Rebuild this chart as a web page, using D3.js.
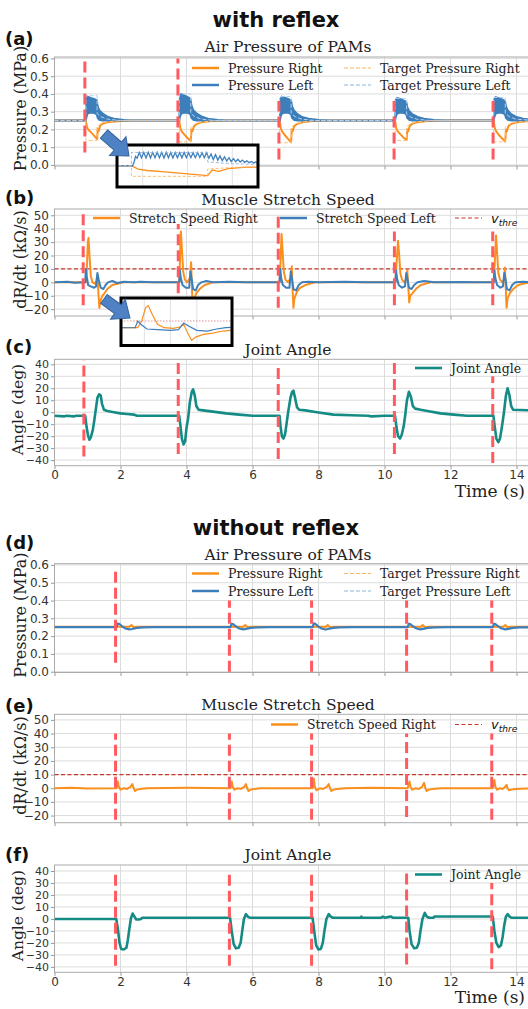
<!DOCTYPE html>
<html>
<head>
<meta charset="utf-8">
<script src="https://cdn.jsdelivr.net/npm/d3@7"></script>
<style>
  body { margin: 0; background: #fff; }
  .serif { font-family: "DejaVu Serif", serif; fill: #222; }
  .sans { font-family: "DejaVu Sans", sans-serif; fill: #111; }
</style>
</head>
<body>
<svg id="fig" width="528" height="1009"></svg>
<script>
// ---- data ----
const timeTicks = [0, 2, 4, 6, 8, 10, 12, 14];
const pressureTicks = [0, 0.1, 0.2, 0.3, 0.4, 0.5, 0.6];
const speedTicks = [-20, -10, 0, 10, 20, 30, 40, 50];
const angleTicks = [-40, -30, -20, -10, 0, 10, 20, 30, 40];
const vThre = 10;

// with reflex: stimulus times and extent of the red markers
const eventsA = [0.92, 3.74, 6.80, 10.29, 13.29];
const spansA = [[0.07, 0.6], [0.03, 0.6], [0.03, 0.36], [0.03, 0.36], [0.03, 0.36]];
const eventsB = [0.87, 3.75, 6.78, 10.30, 13.28];
const spansB = [[-17, 54], [-20, 43.5], [-19, 52], [-17, 38], [-17, 38]];
const eventsC = [0.89, 3.75, 6.78, 10.30, 13.28];
const spansC = [[-37, 43.5], [-35, 43.5], [-39, 41], [-35, 44], [-42.5, 30]];
// without reflex
const eventsD = [1.85, 5.30, 7.79, 10.67, 13.25];
const spansD = [[0.05, 0.59], [0, 0.4], [0, 0.4], [0, 0.4], [0, 0.4]];
const spansE = [[-23, 40], [-23, 40], [-23, 40], [-21, 40], [-23, 40]];
const spansF = [[-39, 39.5], [-39, 39.5], [-39, 39.5], [-38, 39.5], [-42, 30]];

// (a) pressure, with reflex  [t, MPa]
const pressRightA = [[0,0.25],[0.95,0.25],[0.98,0.215],[1.02,0.2],[1.1,0.185],[1.2,0.165],[1.29,0.145],[1.31,0.205],[1.34,0.19],[1.38,0.22],[1.45,0.232],[1.6,0.24],[1.9,0.246],[2.3,0.25],
  [3.78,0.25],[3.81,0.21],[3.85,0.19],[3.93,0.172],[4.03,0.152],[4.13,0.135],[4.15,0.2],[4.18,0.19],[4.22,0.215],[4.3,0.23],[4.45,0.24],[4.75,0.247],[5.2,0.25],
  [6.82,0.25],[6.85,0.212],[6.89,0.19],[6.97,0.17],[7.07,0.148],[7.17,0.128],[7.19,0.2],[7.22,0.19],[7.26,0.216],[7.34,0.23],[7.5,0.24],[7.8,0.247],[8.3,0.25],
  [10.32,0.25],[10.35,0.21],[10.39,0.192],[10.47,0.175],[10.57,0.155],[10.67,0.14],[10.69,0.2],[10.72,0.19],[10.76,0.217],[10.84,0.232],[11.0,0.241],[11.3,0.247],[11.8,0.25],
  [13.31,0.25],[13.34,0.21],[13.38,0.19],[13.46,0.17],[13.56,0.15],[13.66,0.132],[13.68,0.2],[13.71,0.19],[13.75,0.216],[13.83,0.23],[14.0,0.24],[14.3,0.246],[14.6,0.249]];
// left pressure oscillates fast after each stimulus: [t, low, high] envelope
const pressLeftA = [[0,0.25,0.25],[0.95,0.25,0.25],[0.97,0.27,0.37],[1.0,0.29,0.385],[1.1,0.295,0.378],[1.2,0.293,0.372],[1.28,0.285,0.365],[1.31,0.265,0.33],[1.35,0.255,0.31],[1.45,0.25,0.29],[1.6,0.25,0.272],[1.8,0.25,0.26],[2.1,0.25,0.253],[2.3,0.25,0.25],
  [3.78,0.25,0.25],[3.80,0.27,0.38],[3.84,0.29,0.40],[3.95,0.295,0.39],[4.05,0.293,0.38],[4.12,0.285,0.372],[4.15,0.265,0.335],[4.2,0.255,0.31],[4.3,0.25,0.29],[4.45,0.25,0.273],[4.65,0.25,0.26],[4.95,0.25,0.253],[5.2,0.25,0.25],
  [6.83,0.25,0.25],[6.85,0.27,0.37],[6.89,0.29,0.385],[7.0,0.295,0.378],[7.1,0.293,0.37],[7.17,0.285,0.362],[7.2,0.265,0.33],[7.25,0.255,0.308],[7.35,0.25,0.288],[7.5,0.25,0.27],[7.7,0.25,0.26],[8.0,0.25,0.253],[8.3,0.25,0.25],
  [10.32,0.25,0.25],[10.34,0.27,0.365],[10.38,0.29,0.377],[10.49,0.295,0.37],[10.59,0.293,0.362],[10.66,0.285,0.355],[10.69,0.265,0.325],[10.74,0.255,0.305],[10.84,0.25,0.286],[11.0,0.25,0.27],[11.2,0.25,0.26],[11.5,0.25,0.253],[11.8,0.25,0.25],
  [13.31,0.25,0.25],[13.33,0.27,0.37],[13.37,0.29,0.382],[13.48,0.295,0.375],[13.58,0.293,0.368],[13.65,0.285,0.36],[13.68,0.265,0.33],[13.73,0.255,0.308],[13.83,0.25,0.288],[14.0,0.25,0.27],[14.2,0.25,0.26],[14.6,0.25,0.253]];
const targetRightA = [[0,0.25],[0.95,0.25],[0.95,0.138],[1.29,0.138],[1.29,0.215],[1.4,0.232],[1.6,0.243],[2.0,0.25],
  [3.78,0.25],[3.78,0.13],[4.13,0.13],[4.13,0.212],[4.25,0.23],[4.45,0.242],[4.85,0.25],
  [6.82,0.25],[6.82,0.125],[7.17,0.125],[7.17,0.212],[7.29,0.23],[7.49,0.242],[7.9,0.25],
  [10.32,0.25],[10.32,0.138],[10.67,0.138],[10.67,0.215],[10.79,0.232],[10.99,0.243],[11.4,0.25],
  [13.31,0.25],[13.31,0.13],[13.66,0.13],[13.66,0.212],[13.78,0.23],[13.98,0.242],[14.6,0.25]];
const targetLeftA = [[0,0.25],[0.95,0.25],[0.95,0.39],[1.29,0.39],[1.29,0.29],[1.4,0.272],[1.6,0.258],[2.0,0.25],
  [3.78,0.25],[3.78,0.4],[4.13,0.4],[4.13,0.29],[4.25,0.272],[4.45,0.258],[4.85,0.25],
  [6.82,0.25],[6.82,0.385],[7.17,0.385],[7.17,0.29],[7.29,0.272],[7.49,0.258],[7.9,0.25],
  [10.32,0.25],[10.32,0.375],[10.67,0.375],[10.67,0.285],[10.79,0.27],[10.99,0.257],[11.4,0.25],
  [13.31,0.25],[13.31,0.38],[13.66,0.38],[13.66,0.29],[13.78,0.272],[13.98,0.258],[14.6,0.25]];
// zoomed view of the first stimulus, left pressure
const insetLeftA = [[0.89,0.25],[0.955,0.25],[0.962,0.29],[0.968,0.35],[0.975,0.33],[0.985,0.39],[0.995,0.335],[1.005,0.392],[1.015,0.332],[1.025,0.393],[1.035,0.333],[1.045,0.392],[1.055,0.334],[1.065,0.394],[1.075,0.335],[1.085,0.392],[1.095,0.333],[1.105,0.393],[1.115,0.334],[1.125,0.391],[1.135,0.333],[1.145,0.392],[1.155,0.335],[1.165,0.39],[1.175,0.334],[1.185,0.391],[1.195,0.336],[1.205,0.39],[1.215,0.335],[1.225,0.389],[1.235,0.336],[1.245,0.39],[1.255,0.337],[1.265,0.388],[1.275,0.336],[1.285,0.389],[1.295,0.33],[1.305,0.375],[1.315,0.315],[1.325,0.368],[1.335,0.31],[1.345,0.355],[1.355,0.305],[1.365,0.345],[1.375,0.3],[1.385,0.335],[1.395,0.295],[1.405,0.325],[1.415,0.292],[1.425,0.318],[1.435,0.29],[1.445,0.31],[1.455,0.286],[1.465,0.302],[1.475,0.283],[1.485,0.296],[1.495,0.28],[1.505,0.29],[1.515,0.275]];

// (b) stretch speed, with reflex  [t, kOhm/s]
const speedRightB = [[0,0],[0.95,0],[0.98,10],[1.01,30],[1.03,33],[1.06,20],[1.1,5],[1.15,0],[1.22,-1],[1.27,1],[1.3,5],[1.33,-8],[1.36,-19],[1.39,-14],[1.45,-10],[1.52,-8],[1.6,-5],[1.75,-2],[1.9,-1],[2.1,0],
  [3.78,0],[3.8,15],[3.83,38],[3.86,25],[3.9,8],[3.95,2],[4.02,0],[4.1,3],[4.14,15],[4.16,-2],[4.19,-19],[4.22,-13],[4.3,-8],[4.4,-5],[4.55,-2],[4.8,0],
  [6.82,0],[6.85,15],[6.88,36],[6.91,24],[6.95,8],[7.0,2],[7.08,0],[7.15,3],[7.19,12],[7.21,-2],[7.24,-19],[7.27,-12],[7.35,-7],[7.45,-4],[7.6,-2],[7.9,0],
  [10.33,0],[10.36,12],[10.41,31],[10.44,22],[10.48,7],[10.53,2],[10.6,0],[10.66,2],[10.69,9],[10.72,-3],[10.75,-15],[10.78,-10],[10.85,-8],[10.95,-5],[11.1,-2],[11.4,0],
  [13.31,0],[13.34,14],[13.38,35],[13.41,23],[13.45,7],[13.5,2],[13.57,0],[13.62,2],[13.65,11],[13.67,-2],[13.70,-19],[13.73,-12],[13.8,-8],[13.9,-5],[14.05,-2],[14.3,-0.5],[14.6,0]];
const speedLeftB = [[0,0],[0.4,0.5],[0.6,-0.3],[0.93,0],[0.95,10],[0.98,4],[1.02,-2],[1.1,-3],[1.2,-4],[1.26,-3],[1.3,7],[1.34,2],[1.4,-4],[1.48,-5],[1.55,-2],[1.62,0],[1.75,1],[1.9,-0.5],[2.1,0.5],[2.4,0],[2.6,0.5],[3.0,0],
  [3.78,0],[3.8,9],[3.83,3],[3.88,-2],[3.98,-4],[4.08,-4],[4.12,8],[4.16,2],[4.2,-5],[4.28,-6],[4.35,-2],[4.45,0],[4.6,1],[4.8,0],[5.3,0.4],[5.8,0],
  [6.82,0],[6.84,10],[6.87,3],[6.92,-2],[7.02,-4],[7.12,-4],[7.16,8],[7.2,2],[7.24,-5],[7.32,-6],[7.4,-2],[7.5,0],[7.7,0.5],[8.0,0],[8.8,0.4],[9.4,0],
  [10.33,0],[10.35,9],[10.38,3],[10.43,-2],[10.53,-4],[10.62,-3],[10.66,7],[10.7,2],[10.74,-4],[10.82,-5],[10.9,-2],[11.0,0],[11.2,1],[11.5,0],[12.3,0.3],[12.8,0],
  [13.31,0],[13.33,9],[13.36,3],[13.41,-2],[13.51,-4],[13.59,-3],[13.63,7],[13.67,2],[13.71,-5],[13.79,-6],[13.87,-2],[13.97,0],[14.2,0.5],[14.6,0]];

// (c) joint angle, with reflex  [t, deg]
const angleC = [[0,-3],[0.3,-3.5],[0.35,-3],[0.6,-3.5],[0.65,-3],[0.93,-3],[0.97,-12],[1.02,-20],[1.06,-23],[1.1,-21],[1.16,-15],[1.2,-8],[1.25,2],[1.3,12],[1.35,15],[1.4,14],[1.44,7],[1.5,2],[1.6,1],[1.8,0],[2.0,-1],[2.2,-1.5],[2.4,-2],[2.5,-3],[3.78,-3],
  [3.82,-12],[3.86,-22],[3.91,-27],[3.96,-24],[4.0,-13],[4.05,-5],[4.1,8],[4.16,17],[4.2,19],[4.25,14],[4.3,5],[4.37,2],[4.5,1.5],[4.8,0.5],[5.2,-1],[5.6,-2],[6.0,-3],[6.82,-3],
  [6.85,-12],[6.89,-20],[6.94,-22],[6.99,-18],[7.03,-10],[7.08,0],[7.15,12],[7.2,17],[7.24,18],[7.29,12],[7.35,4],[7.42,2],[7.6,1.5],[7.95,0],[8.45,-2],[9.0,-2.5],[9.5,-3],[9.6,-3.5],[10.0,-3],[10.32,-3],
  [10.36,-12],[10.41,-20],[10.47,-22],[10.52,-19],[10.58,-12],[10.63,-2],[10.68,10],[10.74,17],[10.8,13],[10.86,5],[10.93,3],[11.1,2],[11.3,1],[11.7,-1],[12.1,-2],[12.5,-3],[13.3,-3],
  [13.34,-12],[13.39,-22],[13.45,-25],[13.5,-22],[13.56,-12],[13.62,0],[13.68,14],[13.73,20],[13.78,15],[13.84,5],[13.9,2],[14.6,1.5]];

// (d) pressure, without reflex
const pressRightD = [[0,0.252],[2.25,0.252],[2.33,0.262],[2.4,0.25],[2.5,0.252],[5.72,0.252],[5.78,0.262],[5.85,0.25],[5.95,0.252],[8.22,0.252],[8.28,0.262],[8.35,0.25],[8.45,0.252],[11.1,0.252],[11.16,0.262],[11.23,0.25],[11.33,0.252],[13.6,0.252],[13.66,0.262],[13.73,0.25],[13.83,0.252],[14.6,0.252]];
const pressLeftD = [[0,0.25],[1.88,0.25],[1.92,0.27],[1.97,0.268],[2.05,0.255],[2.15,0.243],[2.27,0.238],[2.35,0.24],[2.5,0.246],[2.7,0.249],[3.0,0.25],
  [5.33,0.25],[5.37,0.27],[5.42,0.266],[5.5,0.254],[5.6,0.243],[5.72,0.238],[5.8,0.241],[5.95,0.246],[6.15,0.249],[6.5,0.25],
  [7.82,0.25],[7.86,0.272],[7.91,0.268],[7.99,0.255],[8.09,0.243],[8.21,0.237],[8.29,0.24],[8.44,0.246],[8.64,0.249],[9.0,0.25],
  [10.7,0.25],[10.74,0.27],[10.79,0.266],[10.87,0.254],[10.97,0.243],[11.09,0.238],[11.17,0.241],[11.32,0.246],[11.52,0.249],[11.9,0.25],
  [13.28,0.25],[13.32,0.27],[13.37,0.266],[13.45,0.254],[13.55,0.243],[13.67,0.238],[13.75,0.241],[13.9,0.246],[14.1,0.249],[14.6,0.25]];
const targetD = [[0,0.25],[14.6,0.25]];

// (e) stretch speed, without reflex
const speedRightE = [[0,0],[0.5,0.3],[1.0,-0.2],[1.88,0],[1.92,5],[1.95,1],[2.0,-1],[2.1,0],[2.2,-0.5],[2.3,1],[2.36,3],[2.4,0],[2.44,-2],[2.5,-1],[2.6,-0.5],[2.8,0],[4.0,0.3],
  [5.33,0],[5.37,5],[5.4,1],[5.45,-1],[5.55,0],[5.65,-0.5],[5.75,1],[5.8,3],[5.84,0],[5.88,-2],[5.95,-1],[6.05,-0.5],[6.25,0],
  [7.82,0],[7.86,7],[7.89,1],[7.94,-1.5],[8.04,0],[8.14,-0.5],[8.25,1],[8.31,3],[8.35,0],[8.39,-2],[8.46,-1],[8.56,-0.5],[8.8,0],[9.6,0.3],
  [10.7,0],[10.76,5],[10.79,1],[10.84,-1],[10.94,0],[11.04,-0.5],[11.14,1],[11.2,4],[11.24,0],[11.28,-2],[11.35,-1],[11.45,-0.5],[11.7,0],
  [13.28,0],[13.33,6],[13.36,1],[13.41,-1],[13.5,0],[13.58,-0.5],[13.65,1],[13.7,2.5],[13.73,0],[13.77,-1.5],[13.85,-1],[13.95,-0.5],[14.6,0]];

// (f) joint angle, without reflex
const angleF = [[0,0],[1.87,0],[1.92,-8],[1.97,-20],[2.02,-25],[2.1,-25.5],[2.18,-24],[2.22,-18],[2.27,-8],[2.32,1],[2.37,4.5],[2.42,2],[2.48,-0.5],[2.55,-0.5],[2.62,0],[2.66,1],
  [5.32,1],[5.37,-10],[5.43,-21],[5.5,-24.5],[5.58,-24],[5.64,-20],[5.69,-10],[5.74,0],[5.8,4],[5.86,2],[5.92,1],
  [7.82,1],[7.87,-10],[7.93,-22],[8.0,-25.5],[8.07,-25],[8.13,-20],[8.18,-10],[8.24,0],[8.31,4],[8.37,2],[8.44,1],[9.28,1],[9.3,2],[9.32,1],[9.9,1],[9.95,2],[10.0,1],[10.1,1.5],[10.2,2],[10.25,1],[10.72,1],
  [10.76,-10],[10.82,-21],[10.9,-24.5],[10.98,-24],[11.04,-20],[11.09,-10],[11.15,0],[11.22,5],[11.28,2],[11.35,1],[11.48,1],[11.52,2],[13.28,2],
  [13.33,-10],[13.39,-20],[13.46,-23.5],[13.53,-22],[13.58,-15],[13.63,-5],[13.68,2],[13.73,4],[13.79,2],[13.85,1],[14.6,1]];

// ---- drawing ----
const ORANGE = '#fb8f1d';
const BLUE = '#3d7fbb';
const TEAL = '#158b85';
const EVENT_RED = '#ff5a5f';
const THRE_RED = '#c0392b';

const svg = d3.select('#fig');
const x = d3.scaleLinear().domain([0, 14.6]).range([54.5, 536.3]);

const lineGen = (y) => d3.line().x((d) => x(d[0])).y((d) => y(d[1]));

function panel(p) {
  const y = d3.scaleLinear().domain(p.yDomain).range([p.bottom, p.top]);
  const g = svg.append('g');
  const clipId = 'clip-' + p.id;
  svg.append('clipPath').attr('id', clipId).append('rect')
    .attr('x', x(0)).attr('y', p.top).attr('width', 528 - x(0)).attr('height', p.bottom - p.top);

  // grid
  g.append('g').selectAll('line').data(timeTicks).join('line')
    .attr('x1', (d) => x(d)).attr('x2', (d) => x(d))
    .attr('y1', p.top).attr('y2', p.bottom)
    .attr('stroke', '#dcdcdc');
  g.append('g').selectAll('line').data(p.yTicks).join('line')
    .attr('x1', x(0)).attr('x2', 528)
    .attr('y1', (d) => y(d)).attr('y2', (d) => y(d))
    .attr('stroke', '#dcdcdc');
  g.append('rect')
    .attr('x', x(0)).attr('y', p.top)
    .attr('width', x(14.6) - x(0)).attr('height', p.bottom - p.top)
    .attr('fill', 'none').attr('stroke', '#aaa');

  // axes
  const yAxis = g.append('g')
    .attr('transform', `translate(${x(0)},0)`)
    .call(d3.axisLeft(y).tickValues(p.yTicks).tickFormat(p.fmt).tickSize(3.5).tickPadding(2))
    .call((a) => a.select('.domain').remove());
  g.append('g')
    .attr('transform', `translate(0,${p.bottom})`)
    .call(d3.axisBottom(x).tickValues(timeTicks)
      .tickFormat(p.xLabels ? d3.format('d') : '').tickSize(3.5).tickPadding(1.5))
    .call((a) => a.select('.domain').remove());
  g.selectAll('.tick line').attr('stroke', '#999');
  g.selectAll('.tick text')
    .attr('font-family', '"DejaVu Sans", sans-serif')
    .attr('font-size', 12).attr('fill', '#333');
  if (p.yTickSize) yAxis.selectAll('.tick text').attr('font-size', p.yTickSize);

  // labels
  g.append('text').attr('class', 'serif')
    .attr('x', 288).attr('y', p.titleY)
    .attr('text-anchor', 'middle').attr('font-size', 15.5)
    .text(p.title);
  g.append('text').attr('class', 'serif')
    .attr('transform', `translate(${p.ylabelX || 26},${(p.top + p.bottom) / 2 - 3}) rotate(-90)`)
    .attr('text-anchor', 'middle').attr('font-size', p.ylabelSize || 16)
    .text(p.ylabel);
  g.append('text').attr('class', 'sans')
    .attr('x', 5).attr('y', p.letterY)
    .attr('font-size', 18).attr('font-weight', 'bold')
    .text(p.letter);
  if (p.xLabels) {
    g.append('text').attr('class', 'serif')
      .attr('x', 525).attr('y', p.bottom + 31)
      .attr('text-anchor', 'end').attr('font-size', 17)
      .text('Time (s)');
  }

  const plot = g.append('g').attr('clip-path', `url(#${clipId})`);
  return { y, g, plot };
}

function drawLine(target, data, y, color, width, dash) {
  target.append('path')
    .datum(data)
    .attr('fill', 'none')
    .attr('stroke', color)
    .attr('stroke-width', width)
    .attr('stroke-linejoin', 'round')
    .attr('stroke-dasharray', dash || null)
    .attr('d', lineGen(y));
}

function drawEvents(target, y, times, spans) {
  target.append('g').selectAll('line').data(times).join('line')
    .attr('x1', (d) => x(d)).attr('x2', (d) => x(d))
    .attr('y1', (d, i) => y(spans[i][0])).attr('y2', (d, i) => y(spans[i][1]))
    .attr('stroke', EVENT_RED).attr('stroke-width', 3)
    .attr('stroke-dasharray', '11,5');
}

function drawThreshold(target, y, xs, dash) {
  return target.append('line')
    .attr('x1', xs[0]).attr('x2', xs[1])
    .attr('y1', y(vThre)).attr('y2', y(vThre))
    .attr('stroke', THRE_RED).attr('stroke-width', 1.2)
    .attr('stroke-dasharray', dash);
}

function legend(g, items) {
  items.forEach((it) => {
    g.append('line')
      .attr('x1', it.x).attr('x2', it.x + 27)
      .attr('y1', it.y).attr('y2', it.y)
      .attr('stroke', it.color).attr('stroke-width', it.w)
      .attr('stroke-dasharray', it.dash || null);
    const t = g.append('text').attr('x', it.x + 36).attr('y', it.y + 4.5);
    if (it.label === 'v_thre') {
      t.attr('class', 'sans').attr('font-style', 'italic').attr('font-size', 13);
      t.append('tspan').text('v');
      t.append('tspan').attr('font-size', 9).attr('dy', 3).text('thre');
    } else {
      t.attr('class', 'serif').attr('font-size', 12.5).text(it.label);
    }
  });
}

function arrow(tail, tip) {
  const dx = tip[0] - tail[0], dy = tip[1] - tail[1];
  const L = Math.hypot(dx, dy);
  const ang = (Math.atan2(dy, dx) * 180) / Math.PI;
  const hl = 15, hw = 12.5, sw = 5.5;
  const pts = [[0, -sw], [L - hl, -sw], [L - hl, -hw], [L, 0], [L - hl, hw], [L - hl, sw], [0, sw]];
  svg.append('path')
    .attr('d', 'M' + pts.map((p) => p.join(',')).join('L') + 'Z')
    .attr('transform', `translate(${tail[0]},${tail[1]}) rotate(${ang})`)
    .attr('fill', '#4f82c4').attr('stroke', '#35619c').attr('stroke-width', 1);
}

// headings
svg.append('text').attr('class', 'sans')
  .attr('x', 276).attr('y', 27).attr('text-anchor', 'middle')
  .attr('font-size', 21).attr('font-weight', 'bold').text('with reflex');
svg.append('text').attr('class', 'sans')
  .attr('x', 276).attr('y', 535).attr('text-anchor', 'middle')
  .attr('font-size', 21).attr('font-weight', 'bold').text('without reflex');

const pFmt = d3.format('.1f');
const iFmt = d3.format('d');

// ---- (a) ----
const A = panel({ id: 'a', top: 57, bottom: 166, yDomain: [-0.006, 0.608], yTicks: pressureTicks, fmt: pFmt,
  title: 'Air Pressure of PAMs', titleY: 52, ylabel: 'Pressure (MPa)', letter: '(a)', letterY: 45 });
drawLine(A.plot, pressRightA, A.y, ORANGE, 2);
A.plot.append('path')
  .datum(pressLeftA)
  .attr('fill', BLUE).attr('stroke', BLUE).attr('stroke-width', 2).attr('stroke-linejoin', 'round')
  .attr('d', d3.area().x((d) => x(d[0])).y0((d) => A.y(d[1])).y1((d) => A.y(d[2])));
drawLine(A.plot, targetRightA, A.y, '#fdc37e', 1, '4,2');
drawLine(A.plot, targetLeftA, A.y, '#b5d0ec', 1, '4,2');
drawEvents(A.plot, A.y, eventsA, spansA);
legend(A.g, [
  { x: 192, y: 68, color: ORANGE, w: 2.5, label: 'Pressure Right' },
  { x: 192, y: 85, color: BLUE, w: 2.5, label: 'Pressure Left' },
  { x: 344, y: 68, color: '#fbb567', w: 1.2, dash: '4,2', label: 'Target Pressure Right' },
  { x: 344, y: 85, color: '#8fb4dc', w: 1.2, dash: '4,2', label: 'Target Pressure Left' },
]);

// ---- (b) ----
const B = panel({ id: 'b', top: 209, bottom: 316, yDomain: [-25.1, 54.7], yTicks: speedTicks, fmt: iFmt,
  title: 'Muscle Stretch Speed', titleY: 205, ylabel: 'dR/dt (kΩ/s)', letter: '(b)', letterY: 204 });
drawThreshold(B.plot, B.y, [x(0), 528], '4,2.5');
drawLine(B.plot, speedRightB, B.y, ORANGE, 2);
drawLine(B.plot, speedLeftB, B.y, BLUE, 2);
drawEvents(B.plot, B.y, eventsB, spansB);
legend(B.g, [
  { x: 93, y: 218, color: ORANGE, w: 2.5, label: 'Stretch Speed Right' },
  { x: 280, y: 218, color: BLUE, w: 2.5, label: 'Stretch Speed Left' },
  { x: 455, y: 218, color: THRE_RED, w: 1.2, dash: '4,2.5', label: 'v_thre' },
]);

// ---- (c) ----
const C = panel({ id: 'c', top: 359.3, bottom: 465.7, yDomain: [-44.7, 44.2], yTicks: angleTicks, fmt: iFmt,
  title: 'Joint Angle', titleY: 355, ylabel: 'Angle (deg)', letter: '(c)', letterY: 353, xLabels: true,
  ylabelX: 23, ylabelSize: 15.5, yTickSize: 11 });
drawLine(C.plot, angleC, C.y, TEAL, 2.6);
drawEvents(C.plot, C.y, eventsC, spansC);
legend(C.g, [{ x: 415, y: 368, color: TEAL, w: 2.6, label: 'Joint Angle' }]);

// ---- inset of (a) ----
{
  const ix = d3.scaleLinear().domain([0.89, 1.51]).range([118, 257]);
  const iy = d3.scaleLinear().domain([0.025, 0.47]).range([187, 145]);
  const g = svg.append('g');
  g.append('clipPath').attr('id', 'clip-ia').append('rect')
    .attr('x', 117).attr('y', 145).attr('width', 141).attr('height', 42);
  g.append('rect').attr('x', 117).attr('y', 145).attr('width', 141).attr('height', 42).attr('fill', '#fff');
  const ig = g.append('g').attr('clip-path', 'url(#clip-ia)');
  ig.selectAll('line').data([1.0, 1.2, 1.4]).join('line')
    .attr('x1', (d) => ix(d)).attr('x2', (d) => ix(d)).attr('y1', 145).attr('y2', 187)
    .attr('stroke', '#e2e2e2');
  const il = d3.line().x((d) => ix(d[0])).y((d) => iy(d[1]));
  ig.append('path').datum(pressRightA).attr('fill', 'none').attr('stroke', ORANGE).attr('stroke-width', 1.3).attr('d', il);
  ig.append('path').datum(insetLeftA).attr('fill', 'none').attr('stroke', BLUE).attr('stroke-width', 1.3).attr('d', il);
  ig.append('path').datum(targetRightA).attr('fill', 'none').attr('stroke', '#fbb567').attr('stroke-width', 0.9).attr('stroke-dasharray', '3,2').attr('d', il);
  ig.append('path').datum(targetLeftA).attr('fill', 'none').attr('stroke', '#8fb4dc').attr('stroke-width', 0.9).attr('stroke-dasharray', '3,2').attr('d', il);
  g.append('rect').attr('x', 117).attr('y', 145).attr('width', 141).attr('height', 42)
    .attr('fill', 'none').attr('stroke', '#000').attr('stroke-width', 3);
  arrow([104, 134], [129, 156]);
}

// ---- inset of (b) ----
{
  const ix = d3.scaleLinear().domain([0.83, 1.66]).range([122, 231]);
  const iy = d3.scaleLinear().domain([-26.6, 44.3]).range([345.5, 298]);
  const g = svg.append('g');
  g.append('clipPath').attr('id', 'clip-ib').append('rect')
    .attr('x', 121).attr('y', 298).attr('width', 111).attr('height', 47.5);
  g.append('rect').attr('x', 121).attr('y', 298).attr('width', 111).attr('height', 47.5).attr('fill', '#fff');
  const ig = g.append('g').attr('clip-path', 'url(#clip-ib)');
  ig.selectAll('line').data([1.0, 1.2, 1.4]).join('line')
    .attr('x1', (d) => ix(d)).attr('x2', (d) => ix(d)).attr('y1', 298).attr('y2', 346)
    .attr('stroke', '#e2e2e2');
  drawThreshold(ig, iy, [121, 232], '1.5,1.5').attr('stroke', '#e08a8a').attr('stroke-width', 0.9);
  const il = d3.line().x((d) => ix(d[0])).y((d) => iy(d[1]));
  ig.append('path').datum(speedRightB).attr('fill', 'none').attr('stroke', ORANGE).attr('stroke-width', 1.2).attr('d', il);
  ig.append('path').datum(speedLeftB).attr('fill', 'none').attr('stroke', BLUE).attr('stroke-width', 1.2).attr('d', il);
  g.append('rect').attr('x', 121).attr('y', 298).attr('width', 111).attr('height', 47.5)
    .attr('fill', 'none').attr('stroke', '#000').attr('stroke-width', 3);
  arrow([104, 299], [130, 318]);
}

// ---- (d) ----
const D = panel({ id: 'd', top: 563.7, bottom: 672.5, yDomain: [-0.0045, 0.607], yTicks: pressureTicks, fmt: pFmt,
  title: 'Air Pressure of PAMs', titleY: 560, ylabel: 'Pressure (MPa)', letter: '(d)', letterY: 549 });
drawLine(D.plot, targetD, D.y, '#fdc37e', 1, '4,2');
drawLine(D.plot, pressRightD, D.y, ORANGE, 2);
drawLine(D.plot, pressLeftD, D.y, BLUE, 2.2);
drawEvents(D.plot, D.y, eventsD, spansD);
legend(D.g, [
  { x: 192, y: 573.5, color: ORANGE, w: 2.5, label: 'Pressure Right' },
  { x: 192, y: 591, color: BLUE, w: 2.5, label: 'Pressure Left' },
  { x: 344, y: 573.5, color: '#fbb567', w: 1.2, dash: '4,2', label: 'Target Pressure Right' },
  { x: 344, y: 591, color: '#8fb4dc', w: 1.2, dash: '4,2', label: 'Target Pressure Left' },
]);

// ---- (e) ----
const E = panel({ id: 'e', top: 714.3, bottom: 822.7, yDomain: [-25.2, 54.1], yTicks: speedTicks, fmt: iFmt,
  title: 'Muscle Stretch Speed', titleY: 710, ylabel: 'dR/dt (kΩ/s)', letter: '(e)', letterY: 712 });
drawThreshold(E.plot, E.y, [x(0), 528], '4,2.5');
drawLine(E.plot, speedRightE, E.y, ORANGE, 2);
drawEvents(E.plot, E.y, eventsD, spansE);
legend(E.g, [
  { x: 271, y: 724.5, color: ORANGE, w: 2.5, label: 'Stretch Speed Right' },
  { x: 455, y: 724.5, color: THRE_RED, w: 1.2, dash: '4,2.5', label: 'v_thre' },
]);

// ---- (f) ----
const F = panel({ id: 'f', top: 865, bottom: 972.3, yDomain: [-44.5, 45], yTicks: angleTicks, fmt: iFmt,
  title: 'Joint Angle', titleY: 860, ylabel: 'Angle (deg)', letter: '(f)', letterY: 861, xLabels: true,
  ylabelX: 23, ylabelSize: 15.5, yTickSize: 11 });
drawLine(F.plot, angleF, F.y, TEAL, 2.6);
drawEvents(F.plot, F.y, eventsD, spansF);
legend(F.g, [{ x: 415, y: 874.5, color: TEAL, w: 2.6, label: 'Joint Angle' }]);
</script>
</body>
</html>
